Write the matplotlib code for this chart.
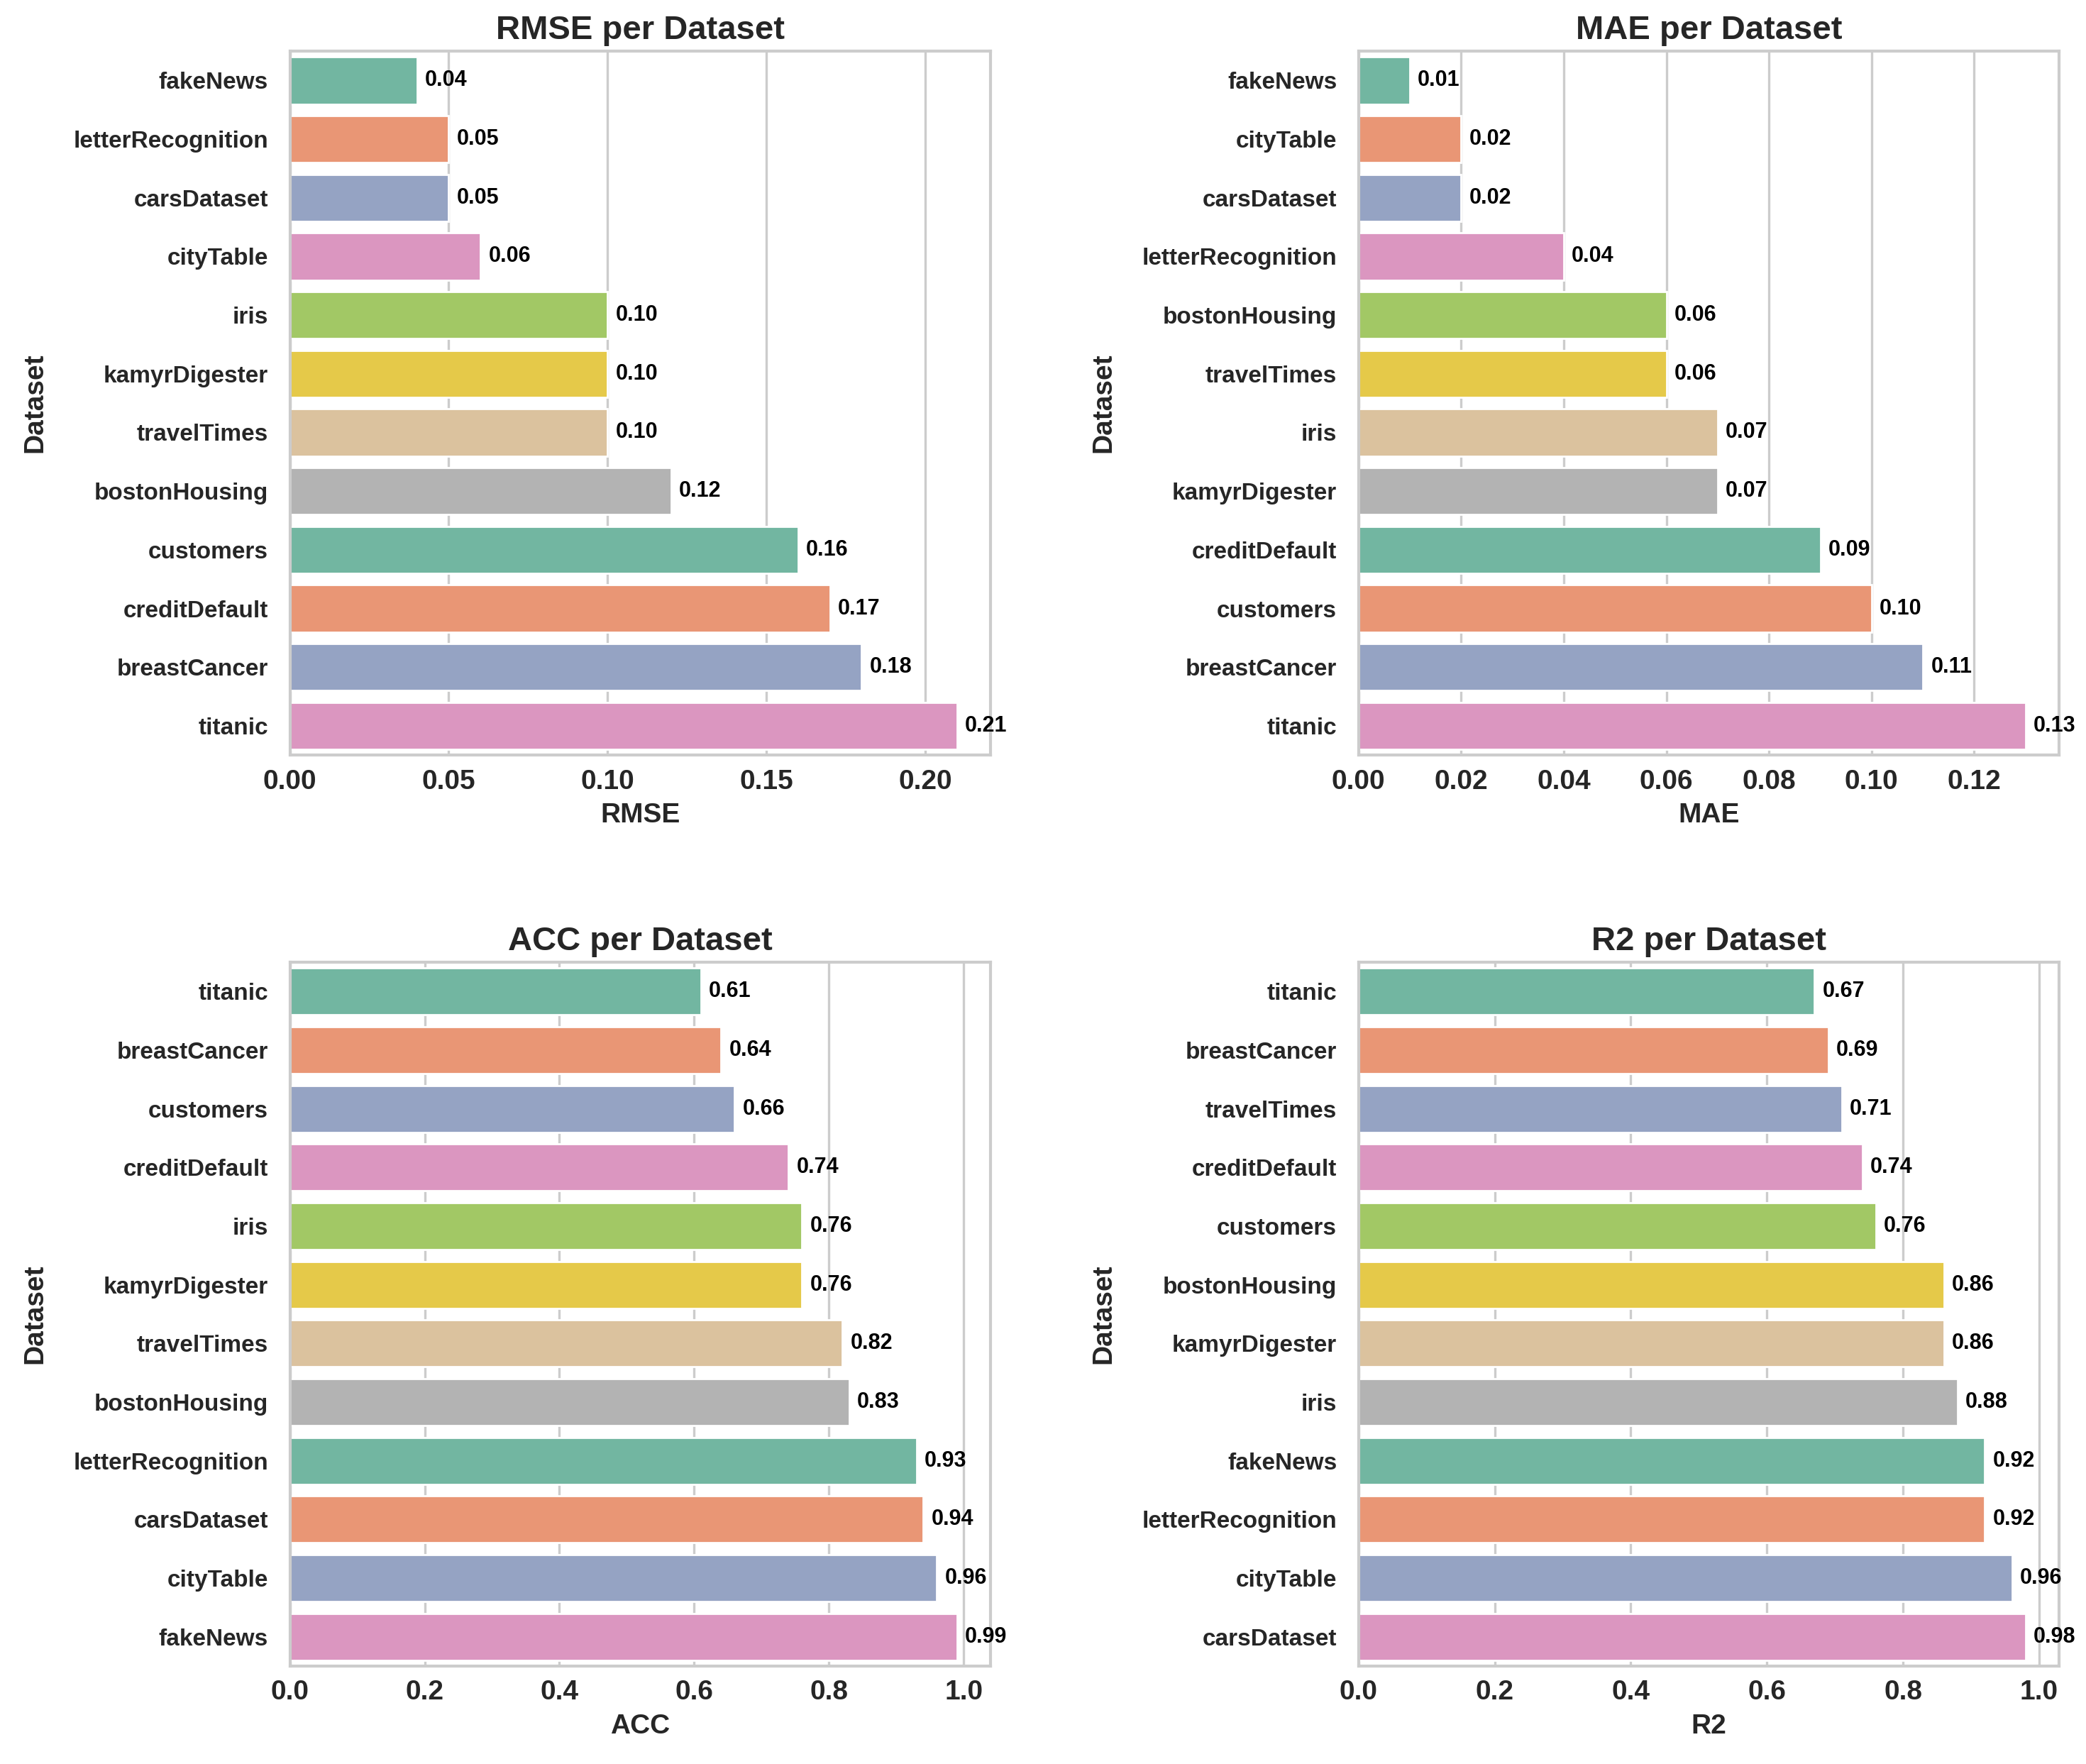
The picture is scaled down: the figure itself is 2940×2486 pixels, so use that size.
import numpy as np
import matplotlib
matplotlib.use("Agg")
import matplotlib.pyplot as plt
from matplotlib.ticker import MultipleLocator
import seaborn as sns

# Values
rmse_names = ["fakeNews", "letterRecognition", "carsDataset", "cityTable", "iris",
              "kamyrDigester", "travelTimes", "bostonHousing", "customers",
              "creditDefault", "breastCancer", "titanic"]
rmse_vals = [0.04, 0.05, 0.05, 0.06, 0.10, 0.10, 0.10, 0.12, 0.16, 0.17, 0.18, 0.21]

mae_names = ["fakeNews", "cityTable", "carsDataset", "letterRecognition", "bostonHousing",
             "travelTimes", "iris", "kamyrDigester", "creditDefault", "customers",
             "breastCancer", "titanic"]
mae_vals = [0.01, 0.02, 0.02, 0.04, 0.06, 0.06, 0.07, 0.07, 0.09, 0.10, 0.11, 0.13]

acc_names = ["titanic", "breastCancer", "customers", "creditDefault", "iris",
             "kamyrDigester", "travelTimes", "bostonHousing", "letterRecognition",
             "carsDataset", "cityTable", "fakeNews"]
acc_vals = [0.61, 0.64, 0.66, 0.74, 0.76, 0.76, 0.82, 0.83, 0.93, 0.94, 0.96, 0.99]

r2_names = ["titanic", "breastCancer", "travelTimes", "creditDefault", "customers",
            "bostonHousing", "kamyrDigester", "iris", "fakeNews", "letterRecognition",
            "cityTable", "carsDataset"]
r2_vals = [0.67, 0.69, 0.71, 0.74, 0.76, 0.86, 0.86, 0.88, 0.92, 0.92, 0.96, 0.98]

x_steps = [0.05, 0.02, 0.2, 0.2]

panels = [("RMSE", rmse_names, rmse_vals),
          ("MAE", mae_names, mae_vals),
          ("ACC", acc_names, acc_vals),
          ("R2", r2_names, r2_vals)]

sns.set_style("whitegrid")
plt.rcParams["font.family"] = ["Liberation Sans", "DejaVu Sans"]
plt.rcParams["font.weight"] = "bold"

# seaborn barplot look: Set2 at 0.75 saturation
palette = [sns.desaturate(c, 0.75) for c in sns.color_palette("Set2", 8)]

fig, axes = plt.subplots(2, 2, figsize=(14.7, 12.43), dpi=200)
fig.subplots_adjust(left=0.139, right=0.987, top=0.971, bottom=0.0555,
                    wspace=0.526, hspace=0.294)

for ax, (metric, names, vals), step in zip(axes.flat, panels, x_steps):
    y = np.arange(len(names))
    colors = [palette[i % 8] for i in range(len(names))]
    ax.barh(y, vals, height=0.8, color=colors)
    ax.set_yticks(y)
    ax.set_yticklabels(names, fontsize=12, fontweight="bold", color="#262626")
    ax.tick_params(axis="y", pad=7.5)
    ax.set_ylim(len(names) - 0.5, -0.5)
    ax.xaxis.set_major_locator(MultipleLocator(step))
    ax.yaxis.grid(False)
    ax.xaxis.grid(True, color="#cccccc", linewidth=1.2)
    ax.tick_params(axis="x", labelsize=14, labelcolor="#262626")
    for lbl in ax.get_xticklabels():
        lbl.set_fontweight("bold")
    ax.set_xlabel(metric, fontsize=14, fontweight="bold", color="#262626")
    ax.set_ylabel("Dataset", fontsize=14, fontweight="bold", color="#262626", labelpad=13)
    ax.set_title(f"{metric} per Dataset", fontsize=17, fontweight="bold", color="#262626")
    for s in ax.spines.values():
        s.set_color("#cccccc")
        s.set_linewidth(1.5)
    for yi, v in zip(y, vals):
        ax.annotate(f"{v:.2f}", xy=(v, yi), xytext=(4, 0), textcoords="offset points",
                    va="center", ha="left", fontsize=11, fontweight="bold", color="black")

fig.savefig("out.png", dpi=200)
